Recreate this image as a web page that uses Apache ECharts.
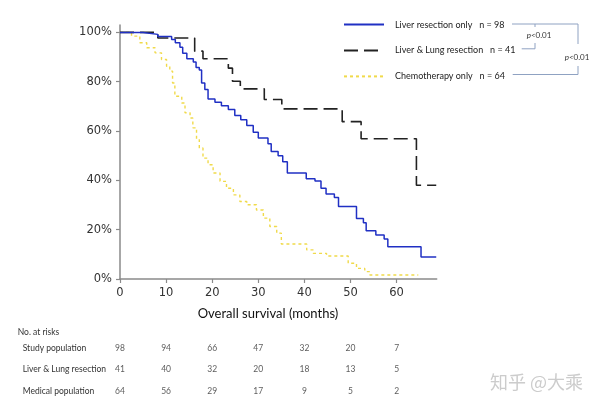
<!DOCTYPE html>
<html>
<head>
<meta charset="utf-8">
<script src="https://cdn.jsdelivr.net/npm/echarts@6/dist/echarts.min.js"></script>
<style>
html,body{margin:0;padding:0;background:#fff;}
#chart{width:600px;height:409px;}
</style>
</head>
<body>
<div id="chart"></div>
<script>
// ---- data ----
var seriesNames = ['Liver resection only', 'Liver & Lung resection', 'Chemotherapy only'];
var seriesN = [98, 41, 64];

var liverTimes = [0, 5.0, 8.2, 11.2, 12.0, 13.0, 13.6, 14.5, 15.9, 16.5, 17.2, 17.7, 18.4, 19.1, 20.6, 22.0, 23.5, 24.9, 26.2, 27.5, 28.9, 30.0, 32.1, 32.8, 34.3, 35.3, 36.3, 40.4, 42.3, 43.6, 44.7, 46.5, 47.4, 51.3, 52.8, 53.4, 55.5, 57.3, 58.1, 65.3, 68.6];
var liverSurv  = [100, 99.2, 98.3, 97.1, 95.8, 94.0, 91.5, 89.3, 88.0, 85.8, 84.8, 79.5, 76.8, 73.0, 71.7, 70.3, 68.7, 66.3, 64.6, 62.2, 59.5, 57.2, 54.8, 51.7, 50.0, 47.5, 43.0, 40.7, 39.7, 36.8, 34.5, 33.0, 29.4, 24.5, 22.8, 19.6, 17.8, 16.2, 13.1, 8.9, 8.9];

var lungTimes = [0, 8.2, 16.2, 18.0, 23.5, 24.4, 26.1, 31.3, 35.1, 48.2, 52.3, 64.3, 68.6];
var lungSurv  = [100, 97.7, 92.4, 89.3, 85.5, 80.2, 77.1, 72.8, 69.0, 63.8, 56.9, 38.0, 38.0];

var chemoTimes = [0, 2.5, 4.3, 5.8, 7.6, 9.0, 10.1, 10.8, 11.4, 11.9, 13.4, 14.1, 15.2, 15.8, 16.6, 17.2, 18.0, 19.1, 20.2, 21.7, 23.1, 24.6, 26.0, 27.5, 29.6, 31.1, 32.5, 34.0, 35.0, 40.5, 41.9, 44.8, 49.5, 51.3, 53.1, 54.2, 64.7];
var chemoSurv  = [100, 98.5, 95.8, 93.8, 91.7, 89.0, 86.3, 84.3, 79.5, 74.1, 71.4, 67.4, 65.3, 61.3, 56.5, 53.1, 49.0, 46.3, 43.0, 39.6, 36.8, 34.1, 31.4, 30.1, 28.0, 24.7, 21.3, 18.6, 14.2, 11.8, 10.4, 9.3, 6.4, 4.3, 3.0, 1.6, 1.6];

var xTicks = [0, 10, 20, 30, 40, 50, 60];
var yTicks = [0, 20, 40, 60, 80, 100];

var riskRows = ['Study population', 'Liver & Lung resection', 'Medical population'];
var riskMonths = [0, 10, 20, 30, 40, 50, 60];
var riskStudy = [98, 94, 66, 47, 32, 20, 7];
var riskLung  = [41, 40, 32, 20, 18, 13, 5];
var riskMedical = [64, 56, 29, 17, 9, 5, 2];

// ---- build ----
function pairs(t, v) { return t.map(function (x, i) { return [x, v[i]]; }); }
function riskData(vals, row) { return riskMonths.map(function (m, i) { return [m, row, vals[i]]; }); }

var XMAX = 68.7, YMAX = 103;
var axisGrey = '#8a8a8a';
var sansLabel = 'DejaVu Sans';
var sansText = 'Lato';

var chart = echarts.init(document.getElementById('chart'), null, {renderer: 'canvas'});

function riskSeries(vals, row) {
  return {
    type: 'scatter', xAxisIndex: 1, yAxisIndex: 1,
    symbolSize: 0, silent: true,
    data: riskData(vals, row),
    label: {
      show: true, position: 'inside',
      formatter: function (p) { return p.value[2]; },
      fontFamily: sansText, fontSize: 8.5, color: '#333'
    }
  };
}

var option = {
  animation: false,
  backgroundColor: '#fff',
  grid: [
    {left: 120, right: 163.3, top: 25, bottom: 130},
    {left: 120, right: 163.3, top: 337.7, height: 64}
  ],
  legend: {
    orient: 'vertical', left: 338, top: 14, padding: 5,
    itemWidth: 40, itemHeight: 14, itemGap: 14.7,
    data: seriesNames,
    itemStyle: {opacity: 0, borderWidth: 0},
    textStyle: {fontFamily: sansText, fontSize: 9, color: '#222', padding: [0, 0, 0, 6]},
    formatter: function (name) {
      var i = seriesNames.indexOf(name);
      return name + '   n = ' + seriesN[i];
    }
  },
  xAxis: [
    {
      type: 'value', gridIndex: 0, min: 0, max: XMAX,
      axisLine: {show: true, lineStyle: {color: axisGrey, width: 1.5}},
      axisTick: {show: true, length: 4, customValues: xTicks, lineStyle: {color: axisGrey, width: 1.2}},
      axisLabel: {customValues: xTicks, fontFamily: sansLabel, fontSize: 11.5, color: '#333', margin: 8},
      splitLine: {show: false}
    },
    {
      type: 'value', gridIndex: 1, min: 0, max: XMAX, show: false
    }
  ],
  yAxis: [
    {
      type: 'value', gridIndex: 0, min: 0, max: YMAX,
      axisLine: {show: true, lineStyle: {color: axisGrey, width: 1.5}},
      axisTick: {show: true, length: 4, customValues: yTicks, lineStyle: {color: axisGrey, width: 1.2}},
      axisLabel: {customValues: yTicks, formatter: '{value}%', fontFamily: sansLabel, fontSize: 11.5, color: '#333', margin: 8},
      splitLine: {show: false}
    },
    {
      type: 'category', gridIndex: 1, data: riskRows, inverse: true,
      axisLine: {show: false}, axisTick: {show: false}, splitLine: {show: false},
      axisLabel: {align: 'left', margin: 97.3, fontFamily: sansText, fontSize: 8.5, color: '#333'}
    }
  ],
  series: [
    {
      name: seriesNames[0], type: 'line', step: 'end', symbol: 'none',
      data: pairs(liverTimes, liverSurv),
      lineStyle: {color: '#2030c4', width: 1.5},
      itemStyle: {color: '#2030c4'}, z: 3
    },
    {
      name: seriesNames[1], type: 'line', step: 'end', symbol: 'none',
      data: pairs(lungTimes, lungSurv),
      lineStyle: {color: '#222', width: 1.6, type: [14, 6]},
      itemStyle: {color: '#222'}, z: 2
    },
    {
      name: seriesNames[2], type: 'line', step: 'end', symbol: 'none',
      data: pairs(chemoTimes, chemoSurv),
      lineStyle: {color: '#f0da4a', width: 1.4, type: [3, 3]},
      itemStyle: {color: '#f0da4a'}, z: 1
    },
    riskSeries(riskStudy, riskRows[0]),
    riskSeries(riskLung, riskRows[1]),
    riskSeries(riskMedical, riskRows[2])
  ],
  graphic: [
    {type: 'text', left: 197.7, top: 307, style: {text: 'Overall survival (months)', font: '13px Lato', fill: '#111'}},
    {type: 'text', left: 17.7, top: 327.5, style: {text: 'No. at risks', font: '8.5px Lato', fill: '#333'}},
    // p-value brackets
    {type: 'polyline', shape: {points: [[512, 24], [578, 24], [578, 44]]}, style: {stroke: '#8fa2c2', lineWidth: 1, fill: null}},
    {type: 'polyline', shape: {points: [[578, 66], [578, 74.5], [512.7, 74.5]]}, style: {stroke: '#8fa2c2', lineWidth: 1, fill: null}},
    {type: 'polyline', shape: {points: [[535, 24], [535, 27]]}, style: {stroke: '#8fa2c2', lineWidth: 1, fill: null}},
    {type: 'polyline', shape: {points: [[535, 43], [535, 48.8], [521.7, 48.8]]}, style: {stroke: '#8fa2c2', lineWidth: 1, fill: null}},
    {type: 'text', x: 539, y: 35, style: {
      text: '{i|p}<0.01', align: 'center', verticalAlign: 'middle', font: '8px Lato', fill: '#333',
      rich: {i: {fontStyle: 'italic', fontFamily: 'Lato', fontSize: 8, fill: '#333'}}
    }},
    {type: 'text', x: 577, y: 57, style: {
      text: '{i|p}<0.01', align: 'center', verticalAlign: 'middle', font: '8px Lato', fill: '#333',
      rich: {i: {fontStyle: 'italic', fontFamily: 'Lato', fontSize: 8, fill: '#333'}}
    }},
    {type: 'text', left: 490, top: 373, style: {text: '知乎 @大乘', font: '18px "Noto Sans CJK SC"', fill: '#cccccc'}}
  ]
};
chart.setOption(option);
</script>
</body>
</html>
